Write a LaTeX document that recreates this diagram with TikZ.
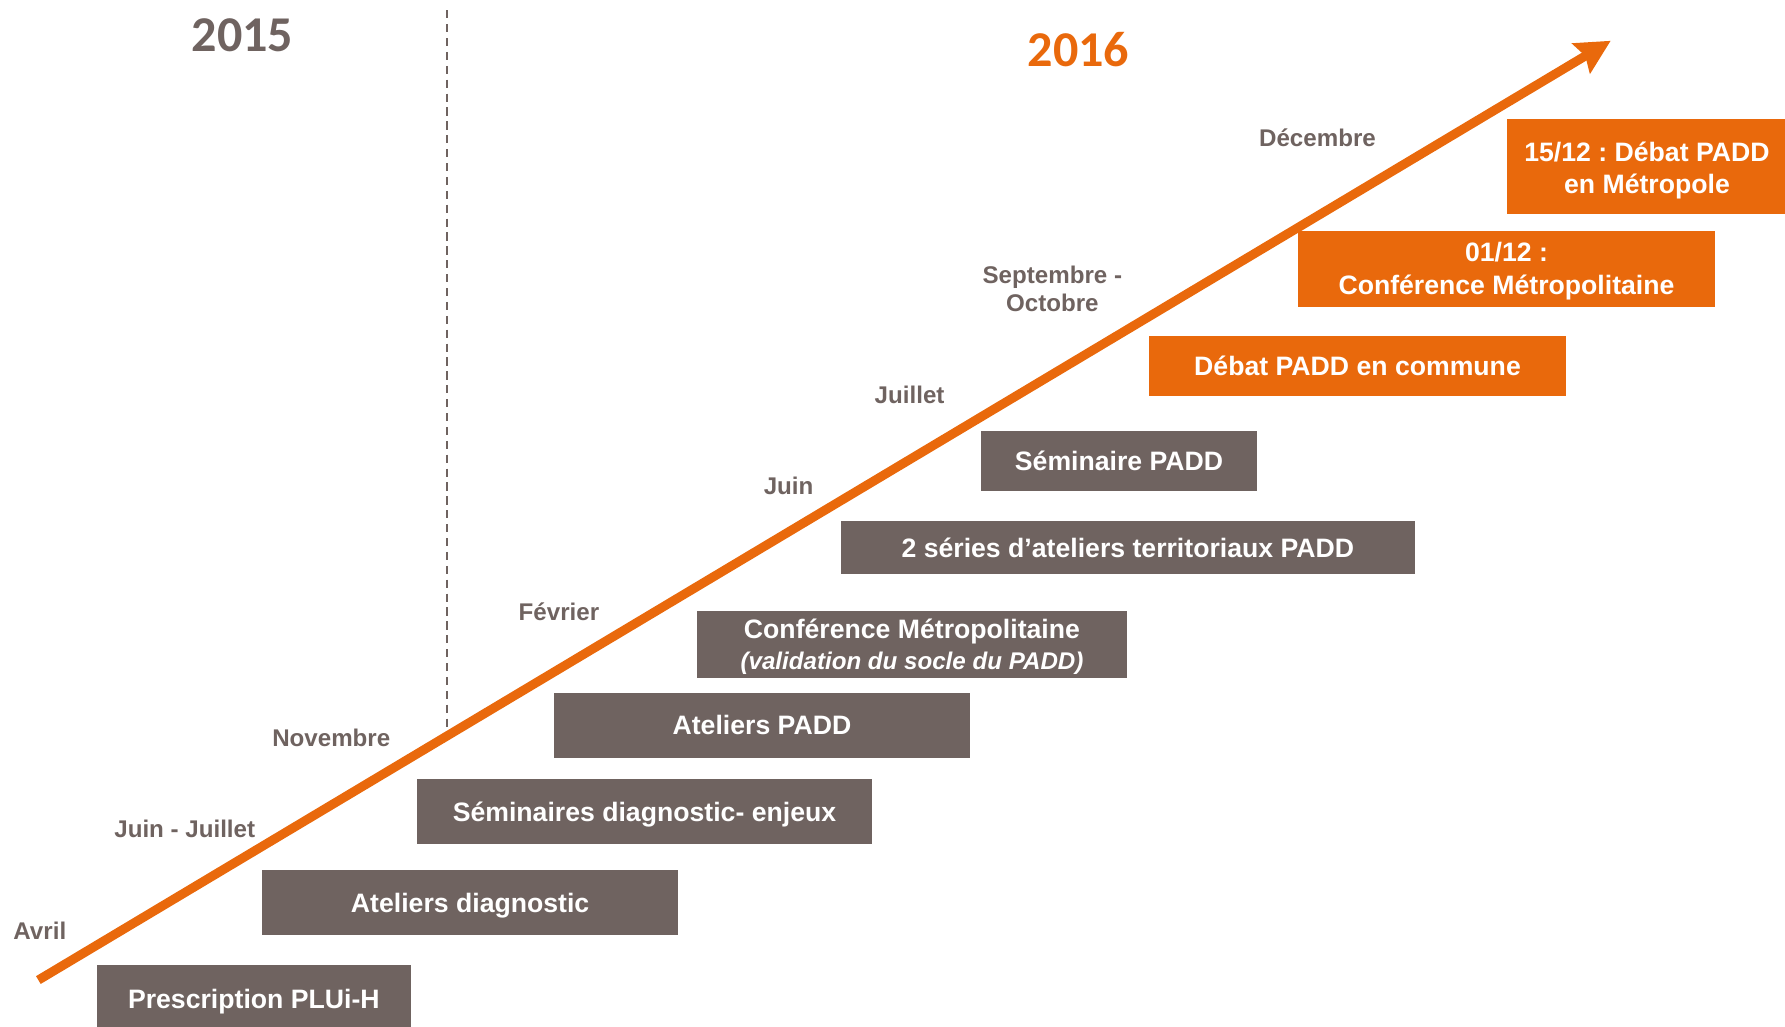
\documentclass[tikz,border=0pt]{standalone}
\usepackage{fontspec}
\setmainfont{Liberation Sans}
\newfontfamily\yearfont{Carlito}
\usetikzlibrary{arrows.meta}
\definecolor{tlgray}{HTML}{6F6360}
\definecolor{tlorange}{HTML}{E9690C}
\frenchspacing
\tikzset{
  boxfont/.style={font=\fontsize{11.7}{13.5}\selectfont\bfseries},
  greybox/.style={boxfont, fill=tlgray, text=white, inner sep=0pt, align=center},
  orangebox/.style={greybox, fill=tlorange},
  onelinetext/.style={text height=8.4pt, text depth=0pt},
  month/.style={font=\fontsize{10.6}{12.5}\selectfont\bfseries, text=tlgray, anchor=base, inner sep=0pt, align=center},
  yearlabel/.style={font=\yearfont\bfseries\fontsize{22}{26}\selectfont, anchor=base, inner sep=0pt},
  timeline/.style={line width=4pt, tlorange, line cap=butt, -{Stealth[length=15pt,width=15pt,inset=2pt]}},
  divider/.style={tlgray, line width=1pt, dash pattern=on 3.6pt off 2.5pt},
}
% one-line box: style, name, x1, y1, x2, y2, text
\newcommand\tlbox[7]{\node[#1, minimum width={(#5-#3)*0.5pt}, minimum height={(#6-#4)*0.5pt}] (#2) at ({(#3+#5)/2},{(#4+#6)/2}) {#7};}
% two-line box: style, name, x1, y1, x2, y2, text, text shift
\newcommand\tlboxtwo[8]{\node[#1, minimum width={(#5-#3)*0.5pt}, minimum height={(#6-#4)*0.5pt}] (#2) at ({(#3+#5)/2},{(#4+#6)/2}) {};
  \node[#1, fill=none] (#2-text) at ([yshift=#8]#2.center) {#7};}
\begin{document}
\begin{tikzpicture}[x=0.5pt,y=-0.5pt]
\useasboundingbox (0,0) rectangle (1568,901.3);
% years
\node[yearlabel, text=tlgray] (y15) at (213,44.8) {2015};
\node[yearlabel, text=tlorange] (y16) at (947.3,58) {2016};
% divider
\coordinate (dtop) at (392.4,9);
\coordinate (dbot) at (392.4,641);
\draw[divider] (dtop) -- (dbot);
% boxes
\tlbox{greybox,onelinetext}{presc}{85}{848}{361}{907}{Prescription PLUi-H}
\tlbox{greybox,onelinetext}{atdiag}{230}{764.2}{596}{821.3}{Ateliers diagnostic}
\tlbox{greybox,onelinetext}{semdiag}{366.3}{684.3}{766}{741.4}{Séminaires diagnostic- enjeux}
\tlbox{greybox,onelinetext}{atpadd}{486.6}{608.5}{852}{665.6}{Ateliers PADD}
\tlboxtwo{greybox}{confm}{612.5}{536.7}{989.7}{595.3}{Conférence Métropolitaine\\{\fontsize{10.6}{13.5}\selectfont\itshape (validation du socle du PADD)}}{-1pt}
\tlbox{greybox,onelinetext}{series}{738.8}{457.7}{1242.7}{504.2}{2 séries d’ateliers territoriaux PADD}
\tlbox{greybox,onelinetext}{sempadd}{862}{378.6}{1104}{431}{Séminaire PADD}
\tlbox{orangebox,onelinetext}{debcom}{1009}{295}{1376}{347.6}{Débat PADD en commune}
\tlboxtwo{orangebox,font=\fontsize{11.7}{14.3}\selectfont\bfseries}{confmet}{1140.2}{202.9}{1506.5}{269.4}{01/12 :\\Conférence Métropolitaine}{-1pt}
\tlboxtwo{orangebox,font=\fontsize{11.7}{14}\selectfont\bfseries}{debmet}{1323.5}{104.5}{1570}{188.3}{15/12 : Débat PADD\\en Métropole}{-1.5pt}
% months
\node[month] (avril) at (35,825) {Avril};
\node[month] (juinjuil) at (162.3,736) {Juin - Juillet};
\node[month] (nov) at (291,656) {Novembre};
\node[month] (fev) at (491,545.2) {Février};
\node[month] (juin) at (692.7,434.8) {Juin};
\node[month] (juil) at (799,354.5) {Juillet};
\node[month] (septoct) at (924.4,273.8) {Septembre -\\Octobre};
\node[month] (dec) at (1157.3,128.3) {Décembre};
% timeline arrow
\coordinate (astart) at (33.7,860.9);
\coordinate (atip) at (1414.9,35.8);
\draw[timeline] (astart) -- (atip);
\end{tikzpicture}
\end{document}
